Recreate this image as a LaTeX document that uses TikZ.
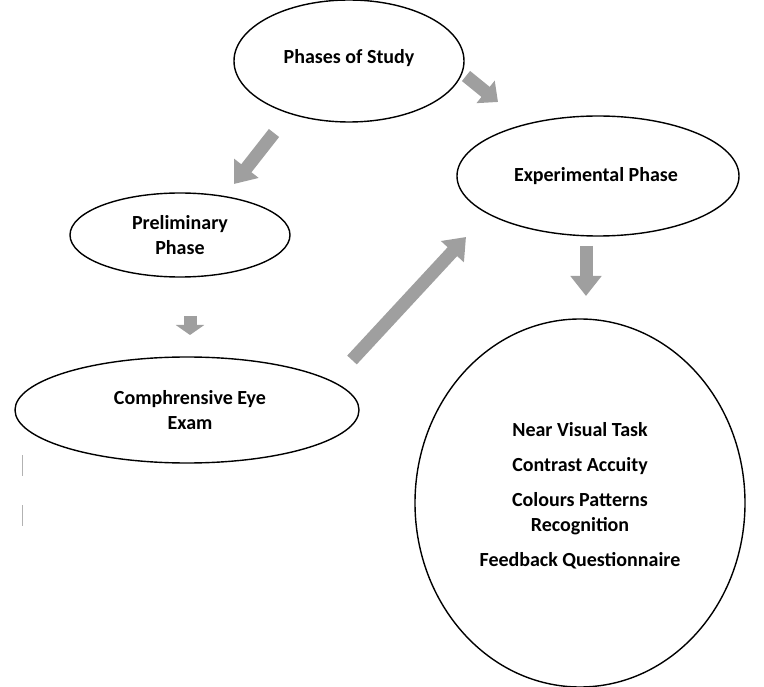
\documentclass[tikz,border=0pt]{standalone}
\usepackage{fontspec}
\setmainfont{Carlito}
\usetikzlibrary{arrows.meta}
\begin{document}
\begin{tikzpicture}[x=1pt,y=-1pt,
  lbl/.style={font=\bfseries\fontsize{20}{25}\selectfont,align=center},
  phasearrow/.style={draw=gray!75,line width=13pt,-{Triangle[length=20pt,width=30pt]}}]
\useasboundingbox (0,0) rectangle (764,687);
% ellipses
\draw[line width=1.4pt] (349,61) ellipse (115 and 61);
\node[lbl] (study) at (349,58) {Phases of Study};
\draw[line width=1.4pt] (598,176) ellipse (141 and 60);
\node[lbl] (exper) at (596,176) {Experimental Phase};
\draw[line width=1.4pt] (180,235) ellipse (110 and 42);
\node[lbl] (prelim) at (180,235) {Preliminary\\Phase};
\draw[line width=1.4pt] (187,410) ellipse (172 and 53);
\node[lbl] (exam) at (190,410) {Comphrensive Eye\\Exam};
\draw[line width=1.4pt] (580,503) ellipse (165 and 184);
\node[lbl] (tasks) at (580,496)
  {Near Visual Task\\[10pt]Contrast Accuity\\[10pt]Colours Patterns\\Recognition\\[10pt]Feedback Questionnaire};
% arrows
\coordinate (a1) at (466,76);  \coordinate (b1) at (498,102);
\coordinate (a2) at (274,133); \coordinate (b2) at (234,184);
\coordinate (a3) at (190,316); \coordinate (b3) at (190,335);
\coordinate (a4) at (352,360); \coordinate (b4) at (466,237);
\coordinate (a5) at (586,246); \coordinate (b5) at (586,296);
\draw[phasearrow,-{Triangle[length=16pt,width=28pt]}] (a1) -- (b1);
\draw[phasearrow] (a2) -- (b2);
\draw[phasearrow,-{Triangle[length=10pt,width=28pt]}] (a3) -- (b3);
\draw[phasearrow] (a4) -- (b4);
\draw[phasearrow] (a5) -- (b5);
% marks at left
\draw[gray!60] (22,455) -- (22,476);
\draw[gray!60] (22,505) -- (22,526);
\end{tikzpicture}
\end{document}
